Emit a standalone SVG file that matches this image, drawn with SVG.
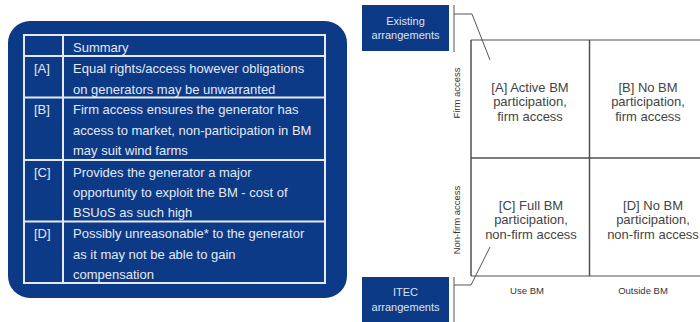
<svg xmlns="http://www.w3.org/2000/svg" width="700" height="322" viewBox="0 0 700 322">
<style>
.navy{fill:#0c3a86}
.tbl{fill:none;stroke:#e4e9f3;stroke-width:2}
.tt{font-family:"Liberation Sans",Arial,sans-serif;font-size:13px;fill:#e4e9f3}
.bx{font-family:"Liberation Sans",Arial,sans-serif;font-size:11px;fill:#dbe3f2;text-anchor:middle}
.cell{font-family:"Liberation Sans",Arial,sans-serif;font-size:13px;fill:#444;text-anchor:middle}
.ax{font-family:"Liberation Sans",Arial,sans-serif;font-size:9.5px;fill:#333;text-anchor:middle}
.gh{stroke:#8a8a8a;stroke-width:1.5;fill:none}
.gv{stroke:#505050;stroke-width:1.5;fill:none}
.con{stroke:#555;stroke-width:1;fill:none}
</style>
<rect width="700" height="322" fill="#ffffff"/>
<g id="summary-table">
<rect x="8" y="21" width="339" height="277" rx="22" class="navy"/>
<rect x="24" y="35" width="301" height="248" class="tbl"/>
<line x1="63" y1="35" x2="63" y2="283" class="tbl"/>
<line x1="24" y1="56" x2="325" y2="56" class="tbl"/>
<line x1="24" y1="97.5" x2="325" y2="97.5" class="tbl"/>
<line x1="24" y1="160" x2="325" y2="160" class="tbl"/>
<line x1="24" y1="221.5" x2="325" y2="221.5" class="tbl"/>
<text class="tt" x="73" y="52">Summary</text>
<text class="tt" x="34" y="73">[A]</text>
<text class="tt" x="73" y="73">Equal rights/access however obligations</text>
<text class="tt" x="73" y="93.5">on generators may be unwarranted</text>
<text class="tt" x="34" y="114">[B]</text>
<text class="tt" x="73" y="114">Firm access ensures the generator has</text>
<text class="tt" x="73" y="135">access to market, non-participation in BM</text>
<text class="tt" x="73" y="155">may suit wind farms</text>
<text class="tt" x="34" y="176.5">[C]</text>
<text class="tt" x="73" y="176.5">Provides the generator a major</text>
<text class="tt" x="73" y="196.5">opportunity to exploit the BM - cost of</text>
<text class="tt" x="73" y="216.5">BSUoS as such high</text>
<text class="tt" x="34" y="238">[D]</text>
<text class="tt" x="73" y="238">Possibly unreasonable* to the generator</text>
<text class="tt" x="73" y="258.5">as it may not be able to gain</text>
<text class="tt" x="73" y="278.5">compensation</text>
</g>
<g id="existing">
<rect x="362" y="5" width="87" height="46" class="navy"/>
<text class="bx" x="405.5" y="25">Existing</text>
<text class="bx" x="405.5" y="39">arrangements</text>
</g>
<g id="itec">
<rect x="362" y="277" width="87" height="45" class="navy"/>
<text class="bx" x="405.5" y="296">ITEC</text>
<text class="bx" x="405.5" y="311">arrangements</text>
</g>
<g id="grid">
<line x1="471" y1="40" x2="700" y2="40" class="gh"/>
<line x1="471" y1="158" x2="700" y2="158" class="gv"/>
<line x1="471" y1="276" x2="700" y2="276" class="gh"/>
<line x1="471" y1="40" x2="471" y2="276" class="gv"/>
<line x1="589.5" y1="40" x2="589.5" y2="276" class="gv"/>
</g>
<g id="cell-a">
<text class="cell" x="530" y="92">[A] Active  BM</text>
<text class="cell" x="530" y="106">participation,</text>
<text class="cell" x="530" y="121">firm access</text>
</g>
<g id="cell-b">
<text class="cell" x="648" y="92">[B] No BM</text>
<text class="cell" x="648" y="106">participation,</text>
<text class="cell" x="648" y="121">firm access</text>
</g>
<g id="cell-c">
<text class="cell" x="531" y="210">[C] Full  BM</text>
<text class="cell" x="531" y="224">participation,</text>
<text class="cell" x="531" y="239">non-firm access</text>
</g>
<g id="cell-d">
<text class="cell" x="653" y="210">[D] No BM</text>
<text class="cell" x="653" y="224">participation,</text>
<text class="cell" x="653" y="239">non-firm access</text>
</g>
<g id="axes">
<text class="ax" transform="translate(460,93) rotate(-90)">Firm access</text>
<text class="ax" transform="translate(460,220) rotate(-90)">Non-firm access</text>
<text class="ax" x="527" y="294">Use BM</text>
<text class="ax" x="643" y="294">Outside BM</text>
</g>
<g id="connectors">
<polyline class="con" points="454,5 454,52"/>
<polyline class="con" points="454,14 472,14 490,60"/>
<polyline class="con" points="454,277 454,322"/>
<polyline class="con" points="454,285 471,285 490,247"/>
</g>
</svg>
